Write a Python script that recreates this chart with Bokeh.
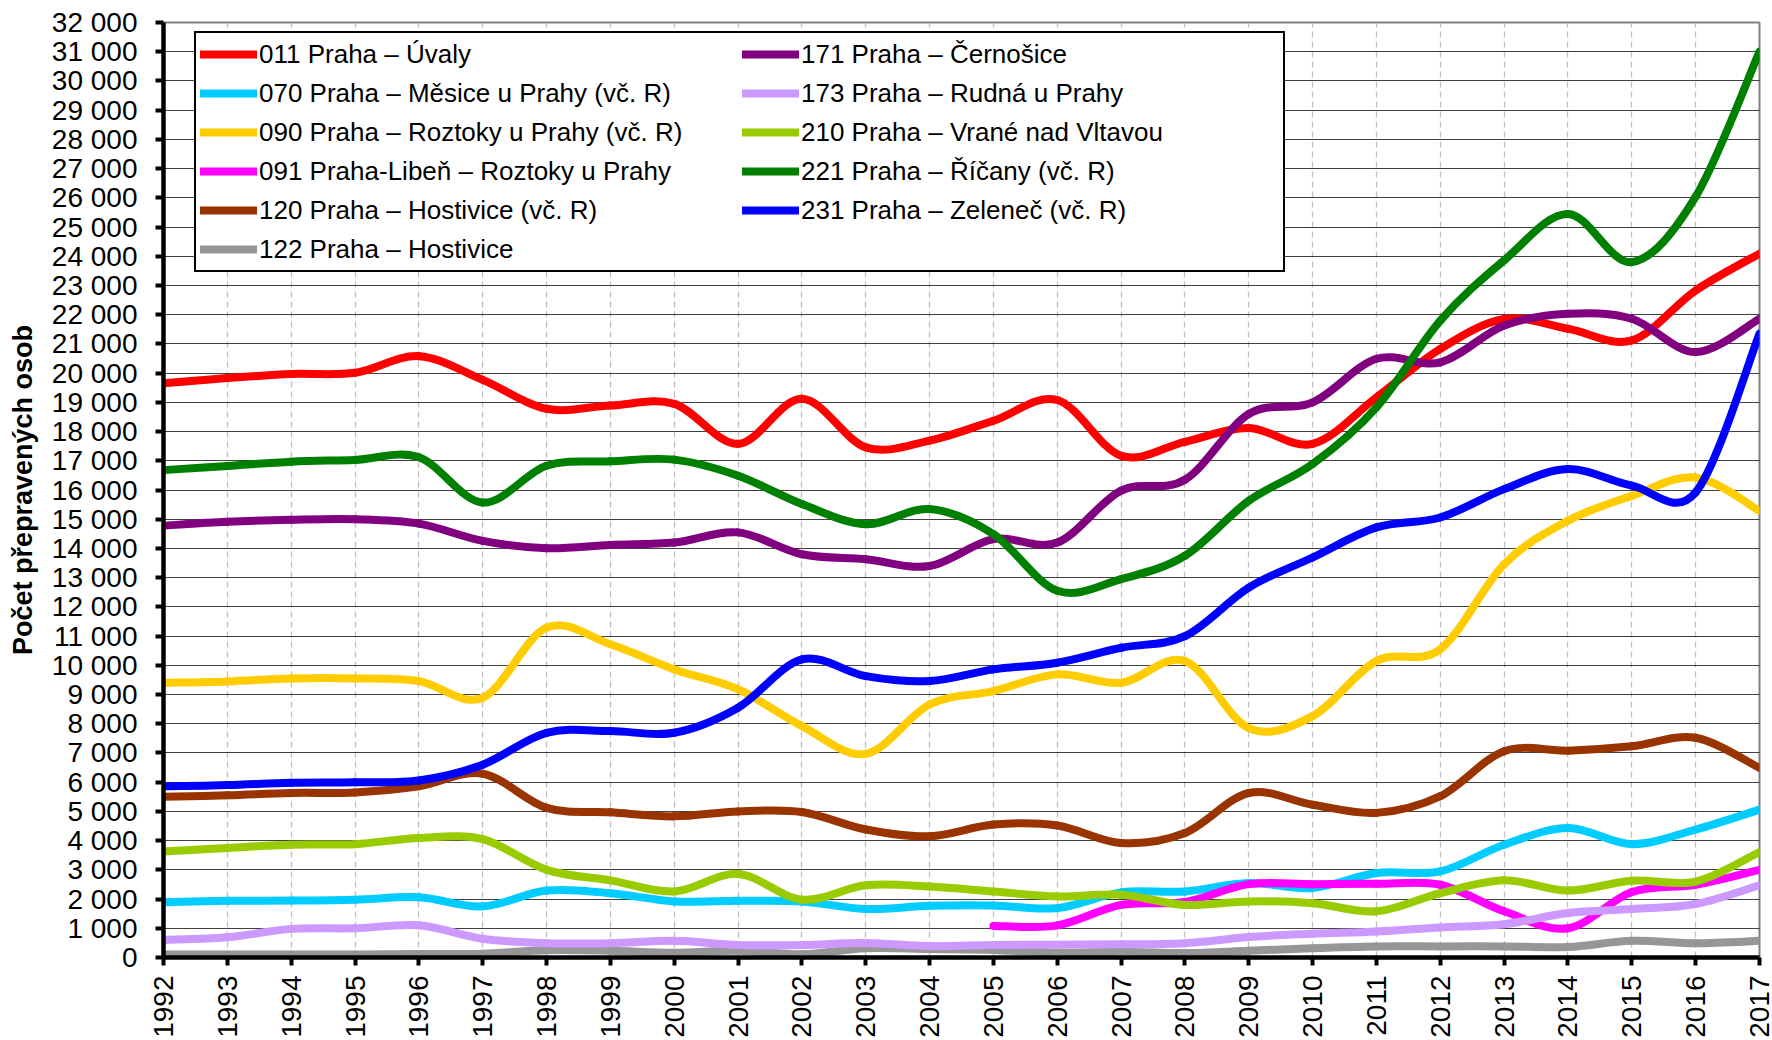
import math
from bokeh.plotting import figure
from bokeh.models import FixedTicker, Legend, LegendItem, ColumnDataSource, Range1d
from bokeh.embed import file_html
from bokeh.resources import INLINE

years = list(range(1992, 2018))
x_tick_labels = [str(y) for y in years]
y_ticks = list(range(0, 32001, 1000))
y_tick_labels = [f"{v:,}".replace(",", " ") for v in y_ticks]

names = [
    "011 Praha – Úvaly",
    "070 Praha – Měsice u Prahy (vč. R)",
    "090 Praha – Roztoky u Prahy (vč. R)",
    "091 Praha-Libeň – Roztoky u Prahy",
    "120 Praha – Hostivice (vč. R)",
    "122 Praha – Hostivice",
    "171 Praha – Černošice",
    "173 Praha – Rudná u Prahy",
    "210 Praha – Vrané nad Vltavou",
    "221 Praha – Říčany (vč. R)",
    "231 Praha – Zeleneč (vč. R)",
]
colors = ["#FF0000", "#00CCFF", "#FFCC00", "#FF00FF", "#993300", "#969696",
          "#800080", "#CC99FF", "#99CC00", "#008000", "#0000FF"]

s011 = [19650, 19830, 19970, 20010, 20580, 19770, 18780, 18890, 18950, 17580, 19120, 17460, 17690,
        18370, 19080, 17170, 17650, 18120, 17580, 19170, 20830, 21850, 21520, 21120, 22830, 24090]
s070 = [1890, 1940, 1950, 1980, 2060, 1750, 2290, 2200, 1920, 1940, 1920, 1660, 1770,
        1780, 1690, 2230, 2260, 2550, 2380, 2890, 2950, 3860, 4430, 3880, 4380, 5060]
s090 = [9400, 9450, 9550, 9550, 9460, 8890, 11290, 10720, 9860, 9180, 7920, 6970, 8660,
        9120, 9690, 9400, 10150, 7850, 8260, 10150, 10550, 13460, 14950, 15800, 16430, 15290]
s091 = [None, None, None, None, None, None, None, None, None, None, None, None, None,
        1080, 1100, 1800, 1900, 2510, 2510, 2520, 2490, 1580, 1000, 2240, 2490, 3000]
s120 = [5500, 5550, 5630, 5650, 5860, 6290, 5120, 4970, 4830, 5000, 4980, 4380, 4150,
        4550, 4520, 3920, 4260, 5630, 5230, 4950, 5520, 7060, 7080, 7230, 7520, 6490]
s122 = [100, 100, 100, 100, 120, 130, 250, 230, 160, 230, 110, 320, 290,
        260, 160, 200, 150, 230, 320, 380, 380, 380, 360, 570, 490, 570]
s171 = [14780, 14910, 14980, 15000, 14850, 14260, 14010, 14120, 14200, 14550, 13800, 13630, 13400,
        14320, 14200, 15980, 16350, 18600, 19000, 20490, 20370, 21630, 22030, 21860, 20720, 21860]
s173 = [600, 690, 980, 1000, 1100, 640, 490, 490, 570, 430, 430, 500, 390,
        430, 440, 450, 490, 700, 810, 890, 1030, 1140, 1520, 1660, 1830, 2470]
s210 = [3630, 3750, 3860, 3880, 4090, 4050, 3000, 2640, 2260, 2860, 1980, 2470, 2430,
        2260, 2090, 2150, 1800, 1920, 1860, 1580, 2200, 2640, 2290, 2630, 2600, 3610]
s221 = [16680, 16820, 16970, 17030, 17120, 15570, 16830, 16980, 17040, 16490, 15520, 14830, 15350,
        14490, 12550, 12950, 13750, 15630, 16890, 18830, 21800, 23860, 25450, 23800, 26040, 31000]
s231 = [5860, 5900, 5980, 6000, 6060, 6600, 7690, 7750, 7690, 8550, 10200, 9630, 9460,
        9860, 10090, 10600, 11000, 12660, 13690, 14720, 15060, 16030, 16720, 16150, 15920, 21350]

series = [s011, s070, s090, s091, s120, s122, s171, s173, s210, s221, s231]

FONT = "Liberation Sans"


def smooth_segments(xs, ys):
    """Catmull-Rom style bezier control points (Excel 'smoothed line')."""
    pts = [(x, y) for x, y in zip(xs, ys) if y is not None]
    n = len(pts)
    d = dict(x0=[], y0=[], x1=[], y1=[], cx0=[], cy0=[], cx1=[], cy1=[])
    for i in range(n - 1):
        pa = pts[i - 1] if i > 0 else pts[i]
        pb = pts[i]
        pc = pts[i + 1]
        pd = pts[i + 2] if i + 2 < n else pts[i + 1]
        d["x0"].append(pb[0]); d["y0"].append(pb[1])
        d["x1"].append(pc[0]); d["y1"].append(pc[1])
        d["cx0"].append(pb[0] + (pc[0] - pa[0]) / 6.0)
        d["cy0"].append(pb[1] + (pc[1] - pa[1]) / 6.0)
        d["cx1"].append(pc[0] - (pd[0] - pb[0]) / 6.0)
        d["cy1"].append(pc[1] - (pd[1] - pb[1]) / 6.0)
    return ColumnDataSource(d)


p = figure(width=1772, height=1040, output_backend="svg", toolbar_location=None,
           x_range=Range1d(1992, 2017), y_range=Range1d(0, 32000),
           min_border_left=163, min_border_right=13, min_border_top=22, min_border_bottom=83)
p.background_fill_color = "white"
p.border_fill_color = "white"
p.outline_line_color = "#808080"
p.outline_line_width = 2

# grid
p.ygrid.ticker = FixedTicker(ticks=y_ticks)
p.ygrid.grid_line_color = "black"
p.ygrid.grid_line_alpha = 0.75
p.ygrid.grid_line_width = 1
p.xgrid.ticker = FixedTicker(ticks=years)
p.xgrid.grid_line_color = "#c0c0c0"
p.xgrid.grid_line_dash = "6 4"
p.xgrid.grid_line_width = 1.3

# axes
yax = p.yaxis[0]
yax.ticker = FixedTicker(ticks=y_ticks)
yax.major_label_overrides = {v: s for v, s in zip(y_ticks, y_tick_labels)}
yax.axis_label = "Počet přepravených osob"
yax.axis_label_text_font = FONT
yax.axis_label_text_font_style = "bold"
yax.axis_label_text_font_size = "27px"
yax.axis_label_text_color = "black"
yax.axis_label_standoff = 11
yax.major_label_text_font = FONT
yax.major_label_text_font_size = "28px"
yax.major_label_text_color = "black"
yax.major_label_standoff = 18

xax = p.xaxis[0]
xax.ticker = FixedTicker(ticks=years)
xax.major_label_overrides = {y: s for y, s in zip(years, x_tick_labels)}
xax.major_label_orientation = math.pi / 2
xax.major_label_text_font = FONT
xax.major_label_text_font_size = "28px"
xax.major_label_text_color = "black"
xax.major_label_standoff = 10

for ax in (xax, yax):
    ax.axis_line_color = "black"
    ax.axis_line_width = 4.5
    ax.major_tick_line_color = "black"
    ax.major_tick_line_width = 4
    ax.major_tick_out = 8
    ax.major_tick_in = 0
    ax.minor_tick_line_color = None

items = []
for name, col, ys in zip(names, colors, series):
    src = smooth_segments(years, ys)
    r = p.bezier(x0="x0", y0="y0", x1="x1", y1="y1", cx0="cx0", cy0="cy0", cx1="cx1", cy1="cy1",
                 source=src, line_color=col, line_width=8, line_cap="round")
    items.append(LegendItem(label=name, renderers=[r]))

legend = Legend(items=items, orientation="vertical", nrows=6,
                location=(31, 685),
                label_text_font=FONT, label_text_font_size="26px", label_text_color="black",
                glyph_width=57, glyph_height=34, label_height=34, label_width=478,
                label_standoff=2, spacing=5, padding=4, margin=0,
                border_line_color="black", border_line_width=2, border_line_alpha=1.0,
                background_fill_color="white", background_fill_alpha=1.0)
p.add_layout(legend, "center")

open("out.html", "w").write(file_html(p, INLINE))
